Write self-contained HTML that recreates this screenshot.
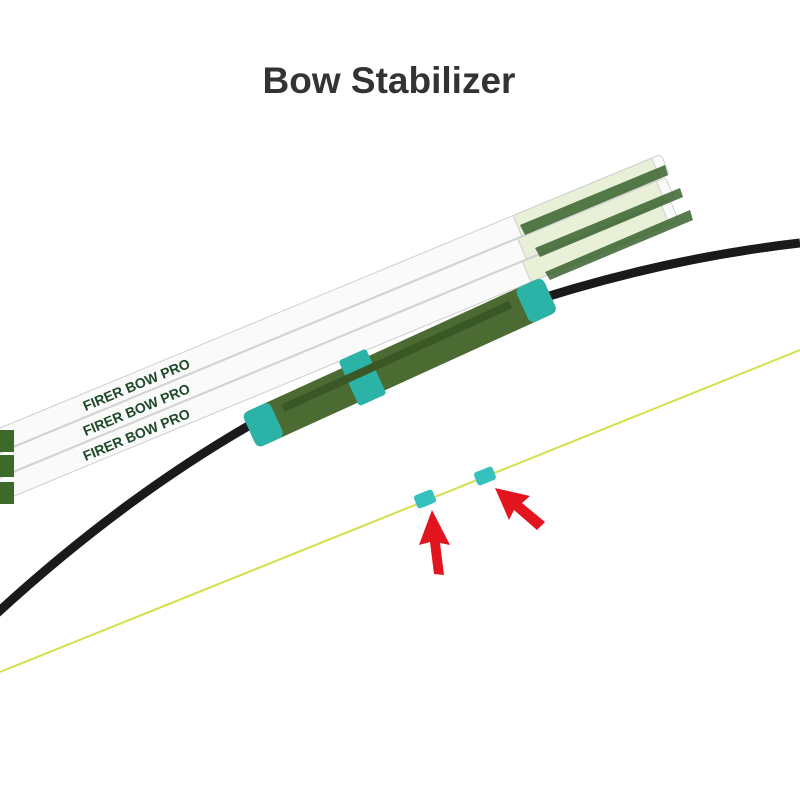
<!DOCTYPE html>
<html><head><meta charset="utf-8"><style>
html,body{margin:0;padding:0;background:#fff;}
svg{display:block;}
</style></head><body>
<svg width="800" height="800" viewBox="0 0 800 800" xmlns="http://www.w3.org/2000/svg">
<rect width="800" height="800" fill="#fff"/>
<text x="389" y="93" text-anchor="middle" font-family="Liberation Sans, sans-serif" font-weight="bold" font-size="37" fill="#333">Bow Stabilizer</text>
<!-- string -->
<line x1="0" y1="672" x2="800" y2="350" stroke="#d6e04c" stroke-width="2"/>
<!-- bow limb -->
<path d="M-5,615 Q120,500 250,425 Q520,275 800,243" fill="none" stroke="#1a1a1a" stroke-width="9"/>
<!-- arrows -->
<g stroke="#cfcfcf" stroke-width="1">
<g transform="translate(0,440) rotate(-22.5)">
<rect x="0" y="-11" width="720" height="22" rx="4" fill="#fafafa"/>
<rect x="560" y="-11" width="150" height="22" fill="#e8f1d8"/>
<text x="90" y="6" font-family="Liberation Sans, sans-serif" font-weight="bold" font-size="14" fill="#1e4a2a" stroke="none">FIRER BOW PRO</text>
</g>
<g transform="translate(0,465) rotate(-22.5)">
<rect x="0" y="-11" width="725" height="22" rx="4" fill="#fafafa"/>
<rect x="565" y="-11" width="150" height="22" fill="#e8f1d8"/>
<text x="90" y="6" font-family="Liberation Sans, sans-serif" font-weight="bold" font-size="14" fill="#1e4a2a" stroke="none">FIRER BOW PRO</text>
</g>
<g transform="translate(0,490) rotate(-22.5)">
<rect x="0" y="-11" width="730" height="22" rx="4" fill="#fafafa"/>
<rect x="570" y="-11" width="150" height="22" fill="#e8f1d8"/>
<text x="90" y="6" font-family="Liberation Sans, sans-serif" font-weight="bold" font-size="14" fill="#1e4a2a" stroke="none">FIRER BOW PRO</text>
</g>
</g>
<!-- fletching pattern -->
<g fill="#2f5a24" opacity="0.8">
<path d="M520,225 L665,165 L668,175 L525,235Z"/>
<path d="M535,248 L680,188 L683,197 L540,257Z"/>
<path d="M545,272 L690,210 L693,220 L550,280Z"/>
</g>
<!-- nocks -->
<rect x="0" y="430" width="14" height="22" fill="#3c6a2a"/>
<rect x="0" y="455" width="14" height="22" fill="#3c6a2a"/>
<rect x="0" y="482" width="14" height="22" fill="#3c6a2a"/>
<!-- riser -->
<g transform="translate(250,432) rotate(-24.5)">
<rect x="0" y="-20" width="330" height="38" rx="8" fill="#4b6b32"/>
<rect x="0" y="-20" width="30" height="38" rx="6" fill="#2bb3a8"/>
<rect x="300" y="-20" width="30" height="38" rx="6" fill="#2bb3a8"/>
<rect x="110" y="-28" width="30" height="50" rx="3" fill="#2bb3a8"/>
<rect x="40" y="-12" width="250" height="8" fill="#3a5726"/>
</g>
<!-- silencers -->
<rect x="415" y="492" width="20" height="14" rx="3" fill="#35c2bf" transform="rotate(-22 425 499)"/>
<rect x="475" y="469" width="20" height="14" rx="3" fill="#35c2bf" transform="rotate(-22 485 476)"/>
<!-- red arrows -->
<g fill="#e2141e">
<path d="M432,510 L450,545 L440,543 L444,575 L434,574 L430,542 L419,545Z"/>
<path d="M495,488 L530,496 L522,503 L545,522 L537,530 L514,510 L509,520Z"/>
</g>
</svg>
</body></html>
